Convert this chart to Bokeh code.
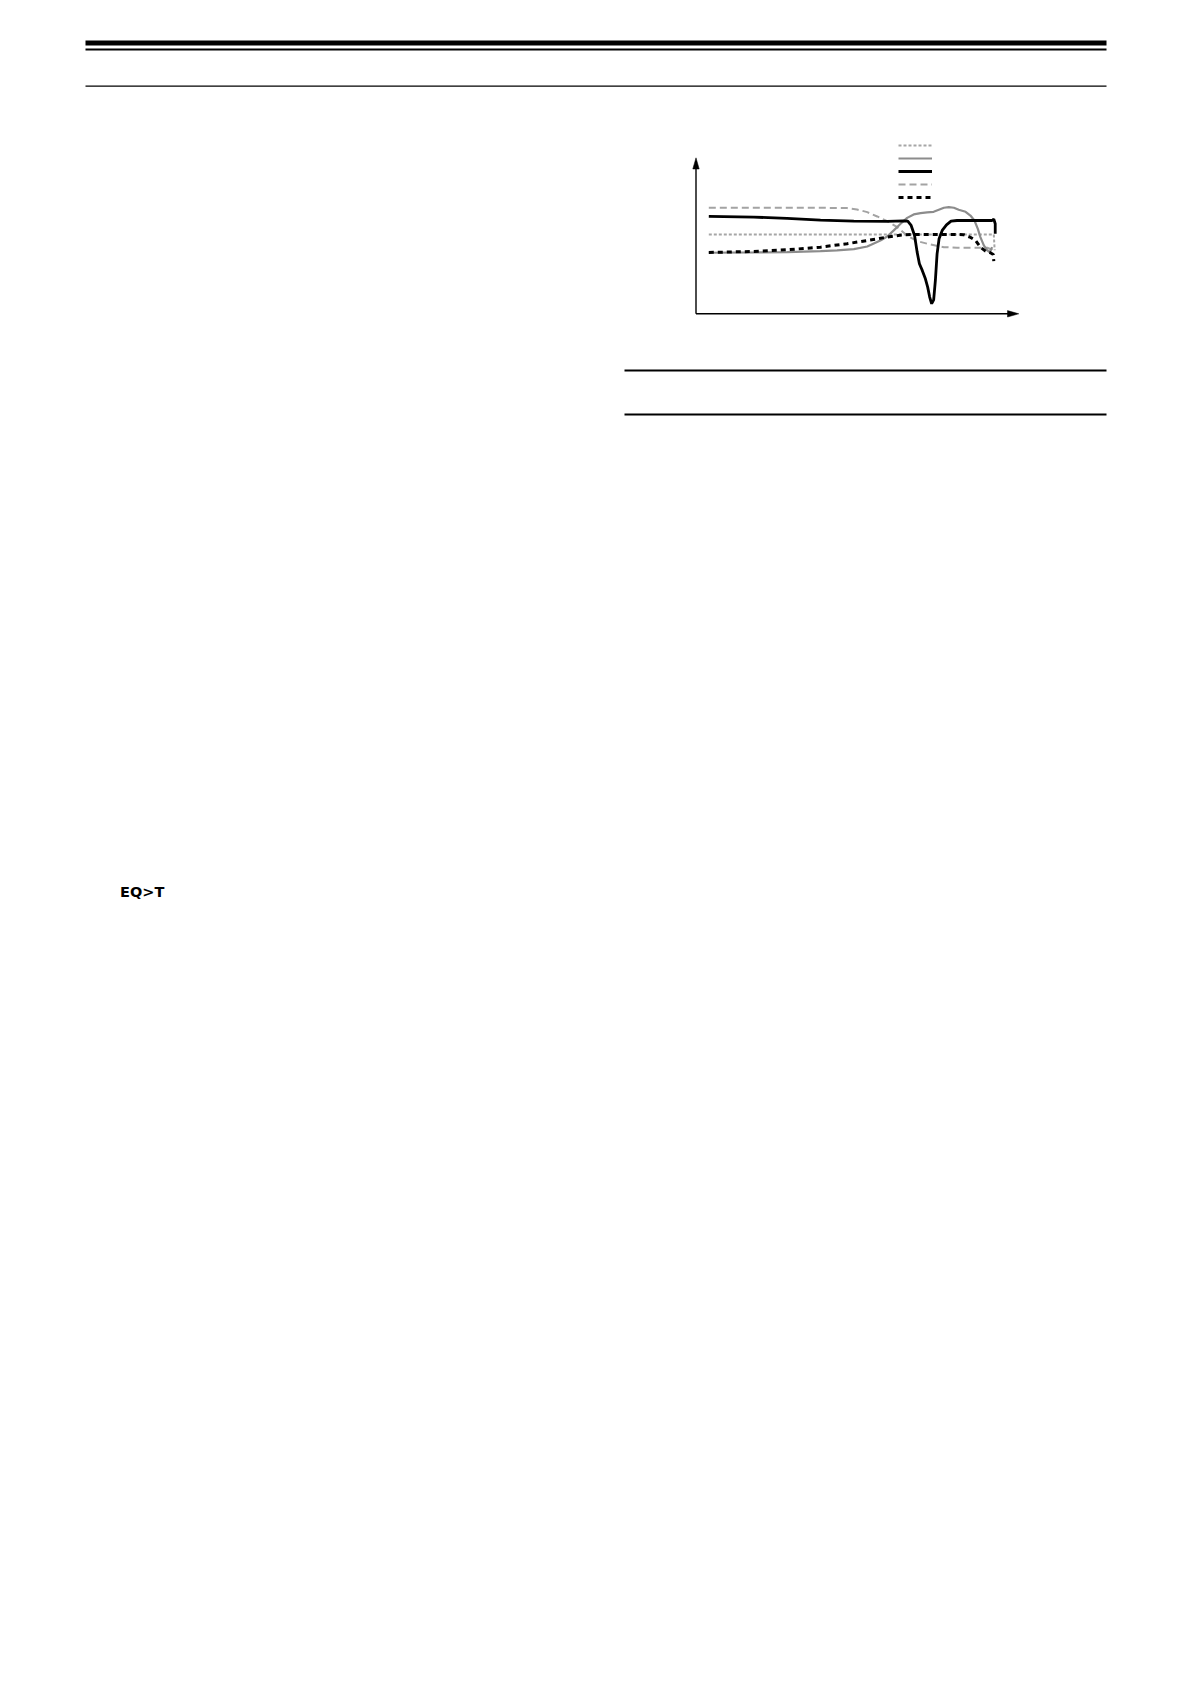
from bokeh.plotting import figure
from bokeh.models import Range1d, Legend, LegendItem
from bokeh.core.properties import value
from bokeh.embed import file_html
from bokeh.resources import INLINE

# ---------------- data ----------------
# series 1: grey dotted
s1_x = [0, 20, 40, 60, 80, 100, 100.3]
s1_y = [51.2, 51.2, 51.2, 51.2, 51.2, 51.2, 41.0]

# series 2: grey solid
s2_x = [0, 15.8, 27.5, 39.2, 45.0, 50.9, 55.6, 60.2, 62.6, 64.9, 67.3, 69.6, 71.9,
        74.3, 76.6, 78.9, 80.7, 82.5, 84.2, 86.0, 87.7, 90.1, 91.8, 93.2, 94.4,
        95.3, 96.5, 97.7, 98.6, 99.4]
s2_y = [39.4, 39.6, 39.8, 40.4, 40.9, 41.7, 43.4, 47.3, 49.9, 53.8, 58.1, 61.9, 64.1,
        64.9, 65.4, 65.8, 67.1, 68.4, 68.8, 68.4, 67.1, 65.8, 63.4, 60.2, 54.8,
        49.5, 44.1, 40.9, 39.6, 43.0]

# series 3: black solid (thick)
s3_x = [0, 15.8, 27.5, 39.2, 50.9, 62.6, 68.4, 69.8, 71.0, 72.2, 73.1, 73.9, 74.9,
        76.0, 76.8, 77.5, 78.2, 78.9, 79.5, 80.1, 80.8, 81.9, 83.4, 85.0, 87.1,
        93.0, 99.4, 100.0, 100.5, 100.5]
s3_y = [62.8, 62.4, 61.5, 60.4, 59.8, 59.6, 60.0, 59.8, 57.0, 50.5, 39.8, 32.3, 28.0,
        22.6, 17.2, 10.8, 6.5, 9.0, 21.5, 38.7, 48.4, 53.8, 57.4, 59.8, 60.2,
        60.2, 60.2, 61.1, 58.1, 51.6]

# series 4: grey dashed
s4_x = [0, 15.8, 27.5, 39.2, 48.5, 52.0, 55.6, 59.1, 62.6, 66.1, 69.6, 73.1, 77.8,
        82.5, 87.1, 97.7, 99.4, 100.0]
s4_y = [68.4, 68.4, 68.4, 68.4, 68.2, 67.3, 65.6, 62.8, 59.8, 55.9, 50.5, 46.9, 44.7,
        43.0, 42.6, 42.6, 41.3, 38.7]

# series 5: black dashed (thick)
s5_x = [0, 15.8, 27.5, 39.2, 48.5, 55.6, 62.6, 68.4, 74.3, 86.0, 89.5, 91.6, 93.6,
        95.3, 97.1, 98.8, 99.8, 100.0]
s5_y = [39.6, 40.2, 41.3, 43.0, 45.2, 47.3, 49.5, 51.0, 51.2, 51.2, 51.0, 49.5, 47.3,
        43.0, 40.4, 39.4, 38.3, 34.0]

page_text = ["EQ>T"]

# ---------------- geometry ----------------
OFF = 0                   # Bokeh's page template has no body margin
W, H = 1175, 920          # figure size
PX0, PXS = 708.3, 2.85    # page x of data x=0, px per data unit
PY0, PYS = 313.3, 1.55    # page y of data y=0, px per data unit

x_range = Range1d((OFF - PX0) / PXS, (OFF + W - PX0) / PXS)
y_range = Range1d((PY0 - (OFF + H)) / PYS, (PY0 - OFF) / PYS)

p = figure(width=W, height=H, x_range=x_range, y_range=y_range,
           output_backend="svg", toolbar_location=None,
           x_axis_location=None, y_axis_location=None,
           min_border=0, outline_line_color=None,
           background_fill_color="white", border_fill_color="white")
p.grid.visible = False
p.extra_x_ranges = {"page": Range1d(OFF, OFF + W)}
p.extra_y_ranges = {"page": Range1d(OFF + H, OFF)}

# page rules
p.quad(left=[85, 85, 85, 624, 624], right=[1106, 1106, 1106, 1106, 1106],
       top=[40, 48, 85, 369, 413], bottom=[45, 50, 86.2, 371, 415],
       fill_color="black", line_color=None,
       x_range_name="page", y_range_name="page")

# chart axes with arrow heads
p.multi_line(xs=[[695.5, 695.5], [695.5, 1009]], ys=[[313.3, 166], [313.3, 313.3]],
             line_color="black", line_width=1.4,
             x_range_name="page", y_range_name="page")
p.patches(xs=[[692.3, 695.5, 698.7], [1007, 1018.3, 1007]],
          ys=[[168.5, 157.3, 168.5], [310.1, 313.3, 316.5]],
          fill_color="black", line_color="black", line_width=0.5,
          x_range_name="page", y_range_name="page")

# series
r4 = p.line(s4_x, s4_y, line_color="#a3a3a3", line_width=2, line_dash="7 4")
r1 = p.line(s1_x, s1_y, line_color="#a6a6a6", line_width=2, line_dash="3 2")
r2 = p.line(s2_x, s2_y, line_color="#8c8c8c", line_width=2.2)
r3 = p.line(s3_x, s3_y, line_color="black", line_width=2.8)
r5 = p.line(s5_x, s5_y, line_color="black", line_width=3, line_dash="5 4")

# legend: glyph column at page x 898..932, rows centred ~144..196
LEG_TOP = 138.6
LEG_H = 5 * 12 + 4 * 1
legend = Legend(items=[LegendItem(label="", renderers=[r]) for r in (r1, r2, r3, r4, r5)],
                location=(898 - OFF, int(round(OFF + H - (LEG_TOP + LEG_H)))),
                glyph_width=34, glyph_height=12, spacing=1,
                padding=0, margin=0, label_standoff=0, label_width=0, label_height=12,
                label_text_font_size="1px",
                border_line_color=None, background_fill_alpha=0)
p.add_layout(legend)

# text on page
p.text(x=[119.5], y=[891.5], text=page_text, text_font=value("DejaVu Sans"),
       text_font_style="bold", text_font_size="14.5px", text_baseline="alphabetic",
       text_color="black", x_range_name="page", y_range_name="page")

open("out.html", "w").write(file_html(p, INLINE))
